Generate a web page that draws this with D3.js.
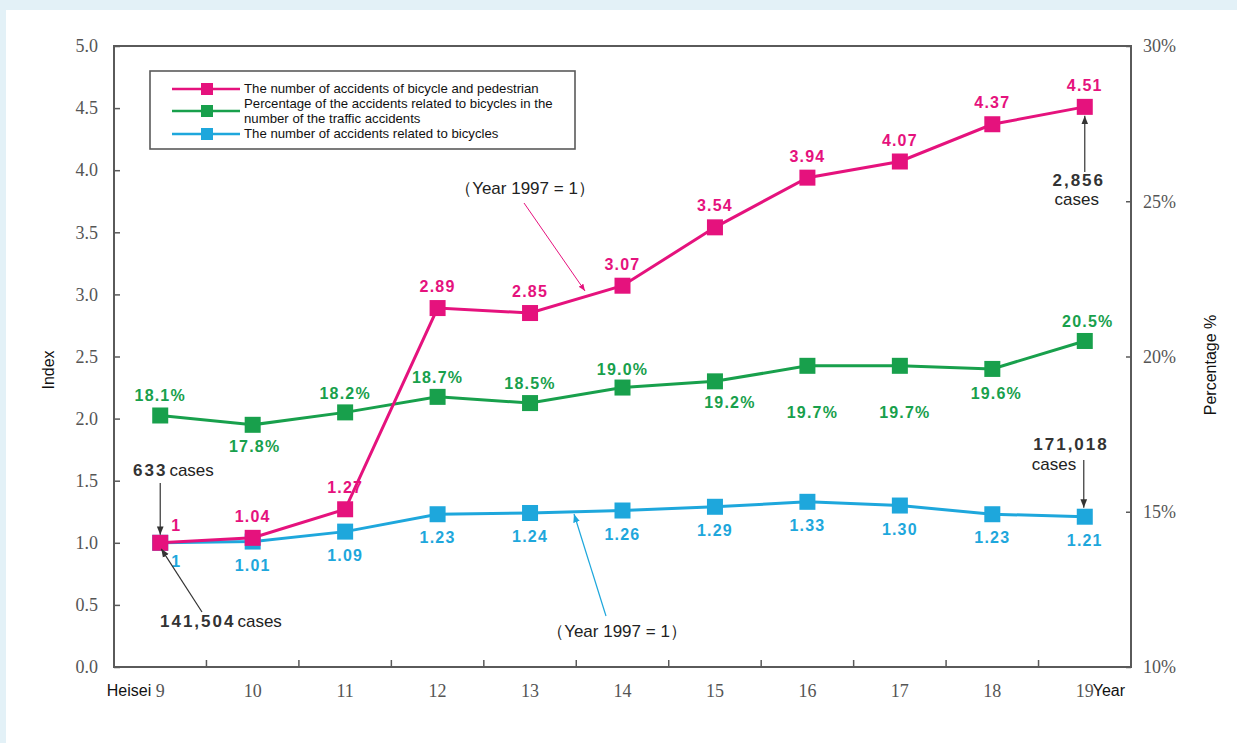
<!DOCTYPE html>
<html>
<head>
<meta charset="utf-8">
<script src="https://cdn.jsdelivr.net/npm/d3@7"></script>
<style>
  body { margin: 0; background: #e3f1f7; }
  svg { display: block; }
</style>
</head>
<body>
<svg id="chart" width="1237" height="743"></svg>
<script>
// Heisei years
const years = ["9", "10", "11", "12", "13", "14", "15", "16", "17", "18", "19"];
// index, year 1997 = 1
const bikePed = [1, 1.04, 1.27, 2.89, 2.85, 3.07, 3.54, 3.94, 4.07, 4.37, 4.51];
const bikeAll = [1, 1.01, 1.09, 1.23, 1.24, 1.26, 1.29, 1.33, 1.30, 1.23, 1.21];
// percentage of all traffic accidents
const bikePct = [18.1, 17.8, 18.2, 18.7, 18.5, 19.0, 19.2, 19.7, 19.7, 19.6, 20.5];
const leftTicks = [0, 0.5, 1, 1.5, 2, 2.5, 3, 3.5, 4, 4.5, 5];
const rightTicks = [10, 15, 20, 25, 30];
const legendLabels = [
    ["The number of accidents of bicycle and pedestrian"],
    ["Percentage of the accidents related to bicycles in the", "number of the traffic accidents"],
    ["The number of accidents related to bicycles"]
];
// where the % labels sit relative to their point (dx, dy)
const pctLabelShift = [[0, -14], [2, 27], [0, -13], [0, -14], [0, -14], [0, -13],
                       [15, 27], [5, 52], [5, 52], [4, 30], [3, -14]];

const PINK = "#e5127d", GREEN = "#18a04c", BLUE = "#1ea7dc";
const AXIS = "#5a5a5a";
const svg = d3.select("#chart");

svg.append("rect").attr("x", 6).attr("y", 10).attr("width", 1231).attr("height", 733).attr("fill", "#fff");

const plotL = 114, plotR = 1131, plotT = 46, plotB = 667;
const x = d3.scaleBand().domain(years).range([plotL, plotR]);
const y = d3.scaleLinear().domain([0, 5]).range([plotB, plotT]);
const yPct = d3.scaleLinear().domain([10, 30]).range([plotB, plotT]);
const cx = i => x(years[i]) + x.bandwidth() / 2;

// arrow heads
const defs = svg.append("defs");
[["arrDark", "#333"], ["arrPink", PINK], ["arrBlue", BLUE]].forEach(([id, c]) => {
    defs.append("marker").attr("id", id).attr("viewBox", "0 0 10 10")
        .attr("refX", 10).attr("refY", 5).attr("markerWidth", 7).attr("markerHeight", 7)
        .attr("orient", "auto")
        .append("path").attr("d", "M0,1 L10,5 L0,9 Z").attr("fill", c);
});

// frame
svg.append("rect").attr("x", plotL).attr("y", plotT).attr("width", plotR - plotL).attr("height", plotB - plotT)
    .attr("fill", "none").attr("stroke", AXIS).attr("stroke-width", 2);

// left axis
const yAxis = svg.append("g").attr("transform", `translate(${plotL},0)`)
    .call(d3.axisLeft(y).tickValues(leftTicks).tickSize(-6).tickPadding(16).tickFormat(d3.format(".1f")));
yAxis.select(".domain").remove();
yAxis.selectAll("line").attr("stroke", AXIS).attr("stroke-width", 1.5);
yAxis.selectAll("text").attr("font-family", "Liberation Serif, DejaVu Serif, serif")
    .attr("font-size", 18).attr("fill", "#555");

// right axis
const yrAxis = svg.append("g").attr("transform", `translate(${plotR},0)`)
    .call(d3.axisRight(yPct).tickValues(rightTicks).tickSize(-5).tickPadding(12).tickFormat(d => d + "%"));
yrAxis.select(".domain").remove();
yrAxis.selectAll("line").attr("stroke", AXIS).attr("stroke-width", 1.5);
yrAxis.selectAll("text").attr("font-family", "Liberation Serif, DejaVu Serif, serif")
    .attr("font-size", 18).attr("fill", "#555");

// bottom axis: ticks between categories
const xAxis = svg.append("g").attr("transform", `translate(0,${plotB})`);
xAxis.selectAll("line").data(years.slice(1)).join("line")
    .attr("x1", d => x(d)).attr("x2", d => x(d)).attr("y1", 0).attr("y2", -7)
    .attr("stroke", AXIS).attr("stroke-width", 1.5);
xAxis.selectAll("text.tick").data(years).join("text").attr("class", "tick")
    .attr("x", (d, i) => cx(i)).attr("y", 30).attr("text-anchor", "middle")
    .attr("font-family", "Liberation Serif, DejaVu Serif, serif").attr("font-size", 18).attr("fill", "#555")
    .text(d => d);
xAxis.append("text").attr("x", cx(0) - 9).attr("y", 29).attr("text-anchor", "end")
    .attr("font-family", "Liberation Sans, Arial, sans-serif").attr("font-size", 16).attr("fill", "#111").text("Heisei");
xAxis.append("text").attr("x", cx(10) + 8).attr("y", 29)
    .attr("font-family", "Liberation Sans, Arial, sans-serif").attr("font-size", 16).attr("fill", "#111").text("Year");

// axis titles
svg.append("text").attr("transform", "translate(54,370) rotate(-90)").attr("text-anchor", "middle")
    .attr("font-family", "Liberation Sans, Arial, sans-serif").attr("font-size", 16).attr("fill", "#111").text("Index");
svg.append("text").attr("transform", "translate(1216,365) rotate(-90)").attr("text-anchor", "middle")
    .attr("font-family", "Liberation Sans, Arial, sans-serif").attr("font-size", 16).attr("fill", "#111").text("Percentage %");

// series
function drawSeries(values, scale, color) {
    const g = svg.append("g");
    g.append("path").datum(values)
        .attr("d", d3.line().x((d, i) => cx(i)).y(d => scale(d)))
        .attr("fill", "none").attr("stroke", color).attr("stroke-width", 3);
    g.selectAll("rect").data(values).join("rect")
        .attr("x", (d, i) => cx(i) - 8).attr("y", d => scale(d) - 8)
        .attr("width", 16).attr("height", 16).attr("fill", color);
    return g;
}
const labelFont = g => g.attr("font-family", "Liberation Sans, Arial, sans-serif")
    .attr("font-weight", "bold").attr("font-size", 16).attr("letter-spacing", 1.2).attr("text-anchor", "middle");

drawSeries(bikePct, yPct, GREEN);
drawSeries(bikeAll, y, BLUE);
drawSeries(bikePed, y, PINK);

// labels
svg.append("g").call(labelFont).attr("fill", GREEN)
    .selectAll("text").data(bikePct).join("text")
    .attr("x", (d, i) => cx(i) + pctLabelShift[i][0])
    .attr("y", (d, i) => yPct(d) + pctLabelShift[i][1])
    .text(d => d.toFixed(1) + "%");
svg.append("g").call(labelFont).attr("fill", BLUE)
    .selectAll("text").data(bikeAll).join("text")
    .attr("x", (d, i) => i === 0 ? cx(i) + 16 : cx(i))
    .attr("y", (d, i) => y(d) + (i === 0 ? 24 : 29))
    .text((d, i) => i === 0 ? "1" : d.toFixed(2));
svg.append("g").call(labelFont).attr("fill", PINK)
    .selectAll("text").data(bikePed).join("text")
    .attr("x", (d, i) => i === 0 ? cx(i) + 16 : cx(i))
    .attr("y", (d, i) => y(d) - (i === 0 ? 12 : 16))
    .text((d, i) => i === 0 ? "1" : d.toFixed(2));

// annotations
const ann = svg.append("g").attr("font-family", "Liberation Sans, Arial, sans-serif").attr("font-size", 17);
function caseText(xp, yp, num) {
    const t = ann.append("text").attr("x", xp).attr("y", yp).attr("fill", "#222");
    t.append("tspan").attr("font-weight", "bold").attr("letter-spacing", 2).attr("fill", "#333").text(num);
    t.append("tspan").attr("dx", 2).text("cases");
}
caseText(133, 476, "633");
ann.append("line").attr("x1", cx(0)).attr("y1", 483).attr("x2", cx(0)).attr("y2", y(1) - 8)
    .attr("stroke", "#333").attr("stroke-width", 1.2).attr("marker-end", "url(#arrDark)");
caseText(160, 627, "141,504");
ann.append("line").attr("x1", 202).attr("y1", 612).attr("x2", cx(0) + 1).attr("y2", y(1) + 6)
    .attr("stroke", "#333").attr("stroke-width", 1.2).attr("marker-end", "url(#arrDark)");

ann.append("text").attr("x", cx(10) - 6).attr("y", 186).attr("text-anchor", "middle")
    .attr("font-weight", "bold").attr("letter-spacing", 2).attr("fill", "#333").text("2,856");
ann.append("text").attr("x", cx(10) - 8).attr("y", 205).attr("text-anchor", "middle").attr("fill", "#222").text("cases");
ann.append("line").attr("x1", cx(10)).attr("y1", 172).attr("x2", cx(10)).attr("y2", y(4.51) + 9)
    .attr("stroke", "#333").attr("stroke-width", 1.2).attr("marker-end", "url(#arrDark)");

ann.append("text").attr("x", 1071).attr("y", 450).attr("text-anchor", "middle")
    .attr("font-weight", "bold").attr("letter-spacing", 2).attr("fill", "#333").text("171,018");
ann.append("text").attr("x", 1054).attr("y", 470).attr("text-anchor", "middle").attr("fill", "#222").text("cases");
ann.append("line").attr("x1", cx(10) - 1).attr("y1", 460).attr("x2", cx(10) - 1).attr("y2", y(1.21) - 9)
    .attr("stroke", "#333").attr("stroke-width", 1.2).attr("marker-end", "url(#arrDark)");

ann.append("text").attr("x", 525).attr("y", 194).attr("text-anchor", "middle").attr("fill", "#222")
    .text("（Year 1997 = 1）");
ann.append("line").attr("x1", 524).attr("y1", 203).attr("x2", 585).attr("y2", 291)
    .attr("stroke", PINK).attr("stroke-width", 1).attr("marker-end", "url(#arrPink)");
ann.append("text").attr("x", 617).attr("y", 637).attr("text-anchor", "middle").attr("fill", "#222")
    .text("（Year 1997 = 1）");
ann.append("line").attr("x1", 606).attr("y1", 616).attr("x2", 574).attr("y2", 514)
    .attr("stroke", BLUE).attr("stroke-width", 1.2).attr("marker-end", "url(#arrBlue)");

// legend
const legend = svg.append("g");
legend.append("rect").attr("x", 150).attr("y", 71).attr("width", 425).attr("height", 78)
    .attr("fill", "#fff").attr("stroke", AXIS).attr("stroke-width", 1.6);
const legendRowsY = [89, 111, 134];
const textRowsY = [[93], [108, 123], [138]];
[PINK, GREEN, BLUE].forEach((c, i) => {
    legend.append("line").attr("x1", 172).attr("x2", 240).attr("y1", legendRowsY[i]).attr("y2", legendRowsY[i])
        .attr("stroke", c).attr("stroke-width", 2.5);
    legend.append("rect").attr("x", 201).attr("y", legendRowsY[i] - 6).attr("width", 12).attr("height", 12).attr("fill", c);
    legendLabels[i].forEach((s, j) => {
        legend.append("text").attr("x", 244).attr("y", textRowsY[i][j])
            .attr("font-family", "Liberation Sans, Arial, sans-serif").attr("font-size", 13.2).attr("fill", "#111").text(s);
    });
});
</script>
</body>
</html>
